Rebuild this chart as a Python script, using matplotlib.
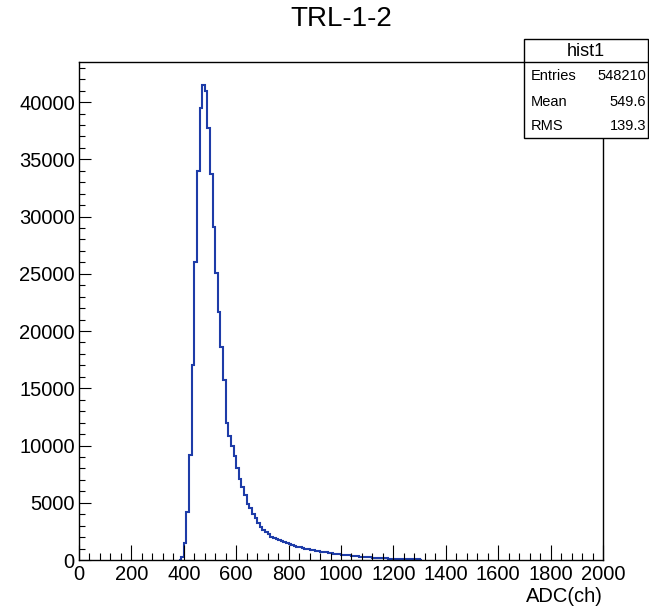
import numpy as np
import matplotlib
matplotlib.use("Agg")
from matplotlib import pyplot as plt
from matplotlib.patches import Rectangle
from matplotlib.ticker import MultipleLocator

plt.rcParams['font.family'] = ['Liberation Sans', 'DejaVu Sans']

# bin lower edges (width 10 ADC channels) and counts
bin_width = 10
bin_start = 380
counts = [
    0, 300, 1500, 4200, 9200, 17000, 26000, 34000, 39500, 41500,
    41000, 37700, 33700, 29100, 25100, 21700, 18600, 15700, 12000, 10800,
    10000, 9100, 8000, 7100, 6400, 5650, 4900, 4500, 4050, 3650,
    3200, 2900, 2650, 2450, 2250, 2050, 1950, 1850, 1750, 1650,
    1550, 1450, 1380, 1300, 1230, 1170, 1100, 1050, 1000, 950,
    900, 860, 820, 780, 740, 700, 660, 620, 590, 560,
    530, 500, 470, 440, 420, 400, 380, 340, 320, 300,
    280, 260, 240, 220, 200, 190, 180, 160, 150, 140,
    130, 120, 110, 100, 90, 85, 80, 70, 65, 60,
    55, 50, 0,
]
edges = bin_start + bin_width * np.arange(len(counts) + 1)

title = "TRL-1-2"
xlabel = "ADC(ch)"
stats_name = "hist1"
stats_rows = [("Entries", "548210"), ("Mean", "549.6"), ("RMS", "139.3")]

W, H = 649, 608
fig = plt.figure(figsize=(W / 100, H / 100), dpi=100)
ax = fig.add_axes([79 / W, 1 - 560 / H, (603 - 79) / W, (560 - 62) / H])

ax.stairs(counts, edges, color="#1e3ca8", linewidth=1.5)
ax.set_xlim(0, 2000)
ax.set_ylim(0, 43500)

ax.xaxis.set_major_locator(MultipleLocator(200))
ax.xaxis.set_minor_locator(MultipleLocator(40))
ax.yaxis.set_major_locator(MultipleLocator(5000))
ax.yaxis.set_minor_locator(MultipleLocator(1000))
ax.tick_params(axis="x", which="major", direction="in", length=10.8, width=0.8,
               labelsize=14.5, pad=3.5, top=False)
ax.tick_params(axis="x", which="minor", direction="in", length=5, width=0.8, top=False)
ax.tick_params(axis="y", which="major", direction="in", length=8.6, width=0.8,
               labelsize=14.5, pad=3, right=False)
ax.tick_params(axis="y", which="minor", direction="in", length=4.3, width=0.8, right=False)
for s in ax.spines.values():
    s.set_linewidth(1.0)

ax.set_xlabel(xlabel, fontsize=14.5)
ax.xaxis.set_label_coords(1.0, -0.055)
ax.xaxis.label.set_horizontalalignment("right")

fig.text(341 / W, 1 - 19 / H, title, fontsize=20, ha="center", va="center")

# stats box, ROOT style
bx0, bx1, by0, by1, bmid = 524, 648, 39, 138, 62
box = Rectangle((bx0 / W, 1 - by1 / H), (bx1 - bx0) / W, (by1 - by0) / H,
                transform=fig.transFigure, facecolor="white", edgecolor="black",
                linewidth=1.0, zorder=10)
fig.add_artist(box)
fig.add_artist(plt.Line2D([bx0 / W, bx1 / W], [1 - bmid / H, 1 - bmid / H],
                          transform=fig.transFigure, color="black", linewidth=1.0, zorder=11))
fig.text((bx0 + bx1) / 2 / W, 1 - 51 / H, stats_name, fontsize=13,
         ha="center", va="center", zorder=12)
for i, (k, v) in enumerate(stats_rows):
    y = 1 - (76.5 + 25 * i) / H
    fig.text(531 / W, y, k, fontsize=10.5, ha="left", va="center", zorder=12)
    fig.text(646 / W, y, v, fontsize=10.5, ha="right", va="center", zorder=12)

fig.savefig("out.png", dpi=100)
